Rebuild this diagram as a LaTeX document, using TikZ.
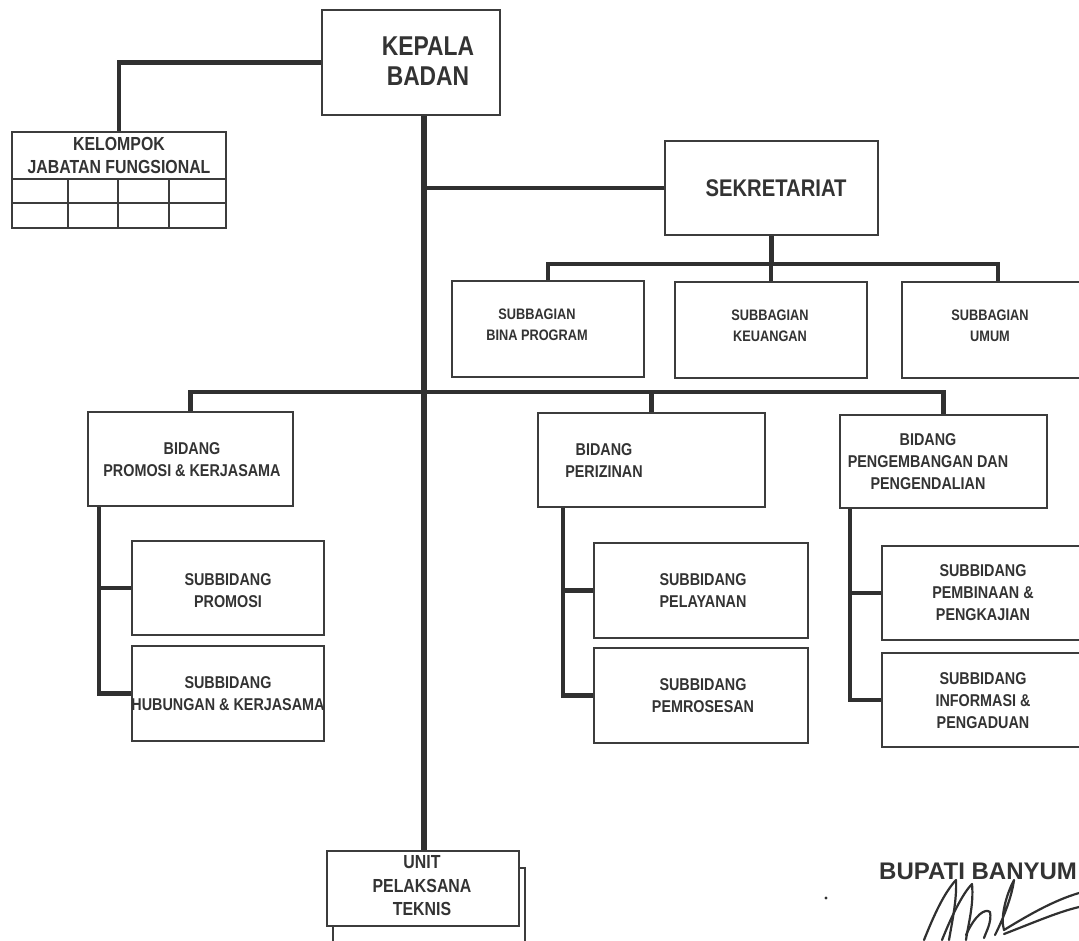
\documentclass[tikz,border=0pt]{standalone}
\usepackage{fontspec}
\setmainfont{Liberation Sans}
\newfontfamily\orgfont{Liberation Sans}[FakeStretch=0.84]
\newfontfamily\widefont{Liberation Sans}
\definecolor{linec}{HTML}{303030}
\definecolor{boxc}{HTML}{3C3C3C}
\definecolor{txtc}{HTML}{333333}
\begin{document}
\begin{tikzpicture}[x=1pt,y=-1pt,
  box/.style={draw=boxc, line width=1.6pt, fill=white, inner sep=0pt},
  conn/.style={draw=linec, line width=4.5pt},
  spineline/.style={draw=linec, line width=5.5pt},
  thin/.style={draw=boxc, line width=1.6pt},
  lbl/.style={text=txtc, align=center, inner sep=0pt, font=\orgfont\bfseries},
  huge/.style={lbl, font=\orgfont\bfseries\fontsize{27.2}{30}\selectfont},
  big/.style={lbl, font=\orgfont\bfseries\fontsize{24.1}{27}\selectfont},
  mid/.style={lbl, font=\orgfont\bfseries\fontsize{18.9}{23.5}\selectfont},
  small/.style={lbl, font=\orgfont\bfseries\fontsize{17.1}{22}\selectfont},
  tiny/.style={lbl, font=\orgfont\bfseries\fontsize{15.2}{21}\selectfont},
  sig/.style={draw=linec, line width=2.2pt, line cap=round, line join=round}]

\fill[white] (0,0) rectangle (1079,940);
\useasboundingbox (0,0) rectangle (1079,940);

% ---- boxes ----
\node[box, minimum width=178pt, minimum height=105pt] (kepala) at (411,62.5) {};
\node[box, minimum width=214pt, minimum height=96pt] (kelompok) at (119,180) {};
\node[box, minimum width=213pt, minimum height=94pt] (sekretariat) at (771.5,188) {};
\node[box, minimum width=192pt, minimum height=96pt] (sbprog) at (548,329) {};
\node[box, minimum width=192pt, minimum height=96pt] (sbkeu) at (771,330) {};
\node[box, minimum width=192pt, minimum height=96pt] (sbumum) at (998,330) {};
\node[box, minimum width=205pt, minimum height=94pt] (bpromosi) at (190.5,459) {};
\node[box, minimum width=227pt, minimum height=94pt] (bizin) at (651.5,460) {};
\node[box, minimum width=207pt, minimum height=93pt] (bkembang) at (943.5,461.5) {};
\node[box, minimum width=192pt, minimum height=94pt] (spromosi) at (228,588) {};
\node[box, minimum width=192pt, minimum height=95pt] (shubungan) at (228,693.5) {};
\node[box, minimum width=214pt, minimum height=95pt] (slayan) at (701,590.5) {};
\node[box, minimum width=214pt, minimum height=95pt] (sproses) at (701,695.5) {};
\node[box, minimum width=208pt, minimum height=94pt] (sbina) at (986,593) {};
\node[box, minimum width=208pt, minimum height=94pt] (sinfo) at (986,700) {};
% UPT: a second sheet behind the front one
\node[box, minimum width=192pt, minimum height=80pt] (uptback) at (429,908) {};
\node[box, minimum width=192pt, minimum height=75pt] (upt) at (423,888.5) {};

% grid of the functional group box
\draw[thin] (kelompok.west |- 0,179) -- (kelompok.east |- 0,179);
\draw[thin] (kelompok.west |- 0,203) -- (kelompok.east |- 0,203);
\foreach \cx in {68,118,169}
  \draw[thin] (\cx,179) -- (\cx,228);

% ---- connectors ----
\coordinate (spine) at (424,0);
\coordinate (sbus) at (0,264);
\coordinate (mbus) at (0,392);
\coordinate (lprom) at (99,0);
\coordinate (lizin) at (563,0);
\coordinate (lkemb) at (850,0);

\draw[conn] (kepala.west) -| (kelompok.north);
\draw[spineline] (kepala.south -| spine) -- (upt.north -| spine);
\draw[conn] (sekretariat.west) -- (sekretariat.west -| spine);
\draw[conn] (sekretariat.south) -- (sekretariat.south |- sbus);
\draw[conn] (sbprog.north) |- (sbumum.north |- sbus) -- (sbumum.north);
\draw[conn] (sbkeu.north) -- (sbkeu.north |- sbus);
\draw[conn] (bpromosi.north) |- (bkembang.north |- mbus) -- (bkembang.north);
\draw[conn] (bizin.north) -- (bizin.north |- mbus);

\draw[conn] (bpromosi.south -| lprom) |- (shubungan.west);
\draw[conn] (spromosi.west) -- (spromosi.west -| lprom);
\draw[conn] (bizin.south -| lizin) |- (sproses.west);
\draw[conn] (slayan.west) -- (slayan.west -| lizin);
\draw[conn] (bkembang.south -| lkemb) |- (sinfo.west);
\draw[conn] (sbina.west) -- (sbina.west -| lkemb);

% ---- texts ----
\node[huge] (tkepala) at (428,61) {KEPALA\\BADAN};
\node[mid] (tkelompok) at (119,155.5) {KELOMPOK\\JABATAN FUNGSIONAL};
\node[big] (tsekre) at (776,188) {SEKRETARIAT};
\node[tiny] (tsbprog) at (537,324.5) {SUBBAGIAN\\BINA PROGRAM};
\node[tiny] (tsbkeu) at (770,325.5) {SUBBAGIAN\\KEUANGAN};
\node[tiny] (tsbumum) at (990,325.5) {SUBBAGIAN\\UMUM};
\node[small] (tbpromosi) at (192,460) {BIDANG\\PROMOSI \& KERJASAMA};
\node[small] (tbizin) at (604,461) {BIDANG\\PERIZINAN};
\node[small] (tbkembang) at (928,462) {BIDANG\\PENGEMBANGAN DAN\\PENGENDALIAN};
\node[small] (tspromosi) at (228,591) {SUBBIDANG\\PROMOSI};
\node[small] (tshubungan) at (228,694) {SUBBIDANG\\HUBUNGAN \& KERJASAMA};
\node[small] (tslayan) at (703,591) {SUBBIDANG\\PELAYANAN};
\node[small] (tsproses) at (703,696) {SUBBIDANG\\PEMROSESAN};
\node[small] (tsbina) at (983,593) {SUBBIDANG\\PEMBINAAN \&\\PENGKAJIAN};
\node[small] (tsinfo) at (983,701) {SUBBIDANG\\INFORMASI \&\\PENGADUAN};
\node[mid] (tupt) at (422,886) {UNIT\\PELAKSANA\\TEKNIS};
\node[lbl, anchor=west, font=\widefont\bfseries\fontsize{24}{28}\selectfont] (bupati) at (879,871) {BUPATI BANYUM};

% ---- signature ----
\fill[linec] (826,898) circle (1.6pt);
\draw[sig] (924,940) .. controls (934,915) and (944,893) .. (956,880)
  .. controls (957,900) and (952,922) .. (949,940);
\draw[sig] (942,940) .. controls (952,915) and (963,893) .. (972,884)
  .. controls (974,905) and (968,925) .. (966,940);
\draw[sig] (966,935) .. controls (975,915) and (985,908) .. (990,912)
  .. controls (992,922) and (986,932) .. (984,938);
\draw[sig] (995,935) .. controls (1005,915) and (1012,895) .. (1014,880)
  .. controls (1006,895) and (1000,918) .. (1004,930)
  .. controls (1030,914) and (1055,900) .. (1079,893);
\draw[sig] (1004,934) .. controls (1035,922) and (1058,912) .. (1079,907);
\end{tikzpicture}
\end{document}
